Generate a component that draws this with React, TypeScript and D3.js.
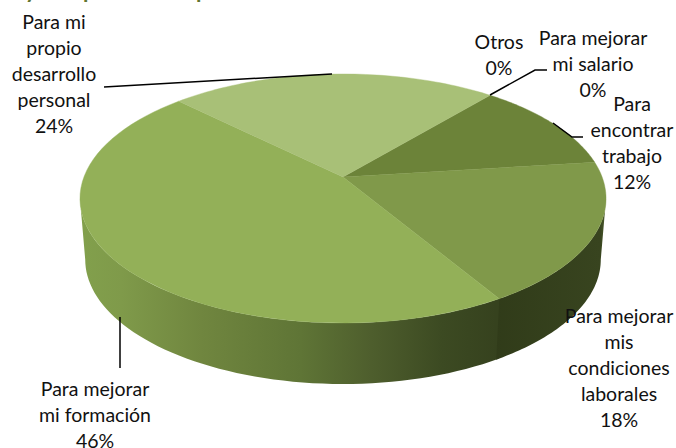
import React from "react";
import * as d3 from "d3";

const categories = ["Otros", "Para mejorar mi salario", "Para encontrar trabajo", "Para mejorar mis condiciones laborales", "Para mejorar mi formación", "Para mi propio desarrollo personal"];
const values = [0, 0, 11.9, 18.4, 46, 23.7];
const topColors = ["#a9c179", "#6d8439", "#6c8339", "#80994a", "#93b058", "#a8c077"];
const labelLines = [["Otros", "0%"], ["Para mejorar", "mi salario", "0%"], ["Para", "encontrar", "trabajo", "12%"], ["Para mejorar", "mis", "condiciones", "laborales", "18%"], ["Para mejorar", "mi formación", "46%"], ["Para mi", "propio", "desarrollo", "personal", "24%"]];
const labelPos = [[499, 49], [593, 45], [632, 111], [619, 323], [95, 396], [54, 29]];
const leaders = [
  [[490, 95], [535, 70], [547, 70]],
  [[553, 123], [572, 137], [583, 137]],
  [[104, 87], [332, 74]],
  [[120, 317], [120, 368]],
];
const titleBits = [["y", 25], ["p", 83], ["p", 196]];

const LH = 26;
const W = 676, H = 448;
const cx = 343, cy = 177, a = 259.1, b = 120.8, p = 0.1726;
const dcy = 61, shrinkX = 0.98;

const project = (ang: number, depth = 0) => {
  const u = Math.sin(ang), v = Math.cos(ang), w = 1 + p * v;
  const s = depth ? shrinkX : 1;
  return [cx + (a * u / w) * s, cy - (b * v / w) + depth] as [number, number];
};
const samples = (a0: number, a1: number, depth = 0) =>
  d3.range(0, 61).map((i) => project(a0 + ((a1 - a0) * i) / 60, depth));

const arcs = d3.pie<number>().sort(null).startAngle((40 * Math.PI) / 180).endAngle((400 * Math.PI) / 180)(values);
const line = d3.line();
const wall = (a0: number, a1: number) => line([...samples(a0, a1), ...samples(a1, a0, dcy)]) + "Z";
const widest = Math.acos(-p);

export default function App() {
  const form = arcs[4], cond = arcs[3];
  return (
    <svg width={W} height={H} style={{ position: "absolute", left: 0, top: 0, background: "#fff" }} fontFamily="Lato, 'Open Sans', sans-serif">
      <defs>
        <linearGradient id="sideF" gradientUnits="userSpaceOnUse" x1={80} x2={496} y1={0} y2={0}>
          <stop offset="0" stopColor="#82a04c" />
          <stop offset="0.1" stopColor="#7f9a4a" />
          <stop offset="0.29" stopColor="#70863f" />
          <stop offset="0.53" stopColor="#5f7536" />
          <stop offset="0.7" stopColor="#4e5e2d" />
          <stop offset="0.87" stopColor="#3c4a22" />
          <stop offset="1" stopColor="#36421e" />
        </linearGradient>
        <linearGradient id="sideC" gradientUnits="userSpaceOnUse" x1={490} x2={606} y1={0} y2={0}>
          <stop offset="0" stopColor="#303b19" />
          <stop offset="0.95" stopColor="#38441f" />
          <stop offset="1" stopColor="#4c5c2c" />
        </linearGradient>
      </defs>
      {titleBits.map(([t, x], i) => (
        <text key={i} x={x as number} y={-2} fontSize={22} fontWeight={700} fill="#5f7530">{t}</text>
      ))}
      <path d={wall(form.startAngle - 0.01, 2 * Math.PI - widest)} fill="url(#sideF)" />
      <path d={wall(widest, cond.endAngle)} fill="url(#sideC)" />
      {arcs.map((d, i) =>
        d.endAngle > d.startAngle ? (
          <path key={categories[i]} d={line([[cx, cy], ...samples(d.startAngle, d.endAngle)]) + "Z"} fill={topColors[i]} stroke={topColors[i]} strokeWidth={0.4} />
        ) : null
      )}
      {leaders.map((l, i) => (
        <path key={i} d={line(l as [number, number][]) ?? ""} fill="none" stroke="#000" strokeWidth={1.5} />
      ))}
      {labelLines.map((ls, i) => (
        <text key={i} textAnchor="middle" fontSize={19.5} fill="#111">
          {ls.map((t, j) => (
            <tspan key={j} x={labelPos[i][0]} y={labelPos[i][1] + j * LH}>{t}</tspan>
          ))}
        </text>
      ))}
    </svg>
  );
}
